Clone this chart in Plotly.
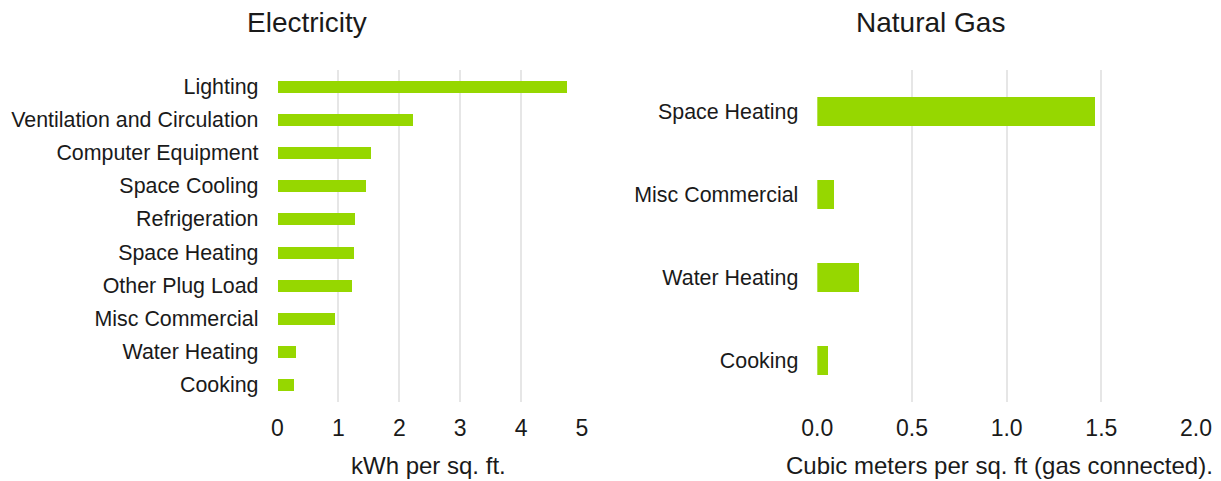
import plotly.graph_objects as go

# Energy use intensity by end use
elec_categories = [
    "Lighting", "Ventilation and Circulation", "Computer Equipment",
    "Space Cooling", "Refrigeration", "Space Heating", "Other Plug Load",
    "Misc Commercial", "Water Heating", "Cooking",
]
elec_values = [4.75, 2.22, 1.52, 1.44, 1.27, 1.24, 1.21, 0.94, 0.29, 0.27]

gas_categories = ["Space Heating", "Misc Commercial", "Water Heating", "Cooking"]
gas_values = [1.47, 0.09, 0.22, 0.06]

elec_ticks = [0, 1, 2, 3, 4, 5]
gas_ticks = [0.0, 0.5, 1.0, 1.5, 2.0]
gas_tick_text = ["0.0", "0.5", "1.0", "1.5", "2.0"]

W, H = 1221, 481
FONT = "Arial"
TEXT = "#1a1a1a"
BAR = "#96D700"
GRID = "#e6e6e6"


def px_x(p):
    return p / W


def px_y(p):
    return (H - p) / H


fig = go.Figure()
fig.add_trace(go.Bar(
    x=elec_values, y=elec_categories, orientation="h",
    marker=dict(color=BAR, line=dict(width=0)), width=0.36,
    xaxis="x", yaxis="y", showlegend=False,
))
fig.add_trace(go.Bar(
    x=gas_values, y=gas_categories, orientation="h",
    marker=dict(color=BAR, line=dict(width=0)), width=0.36,
    xaxis="x2", yaxis="y2", showlegend=False,
))

y_dom = [px_y(401.5), px_y(69.5)]

common_x = dict(
    showgrid=True, gridcolor=GRID, gridwidth=2, zeroline=False,
    showline=False, ticks="", automargin=False,
    tickfont=dict(family=FONT, size=23, color=TEXT),
    ticklabelstandoff=10,
)
common_y = dict(
    showgrid=False, zeroline=False, showline=False, ticks="",
    automargin=False, autorange="reversed",
    tickfont=dict(family=FONT, size=21.4, color=TEXT),
    ticklabelstandoff=18,
)

fig.update_layout(
    width=W, height=H,
    margin=dict(l=0, r=0, t=0, b=0),
    paper_bgcolor="white", plot_bgcolor="white",
    bargap=0,
    xaxis=dict(domain=[px_x(277.5), px_x(582)], range=[0, 5],
               tickvals=elec_ticks, anchor="y", **common_x),
    yaxis=dict(domain=y_dom, anchor="x", categoryorder="array",
               categoryarray=elec_categories, **common_y),
    xaxis2=dict(domain=[px_x(817.3), px_x(1196)], range=[0, 2],
                tickvals=gas_ticks, ticktext=gas_tick_text, anchor="y2",
                **common_x),
    yaxis2=dict(domain=y_dom, anchor="x2", categoryorder="array",
                categoryarray=gas_categories, **common_y),
    annotations=[
        dict(text="Electricity", x=px_x(307), y=px_y(22), xref="paper",
             yref="paper", showarrow=False, xanchor="center",
             yanchor="middle", font=dict(family=FONT, size=28, color=TEXT)),
        dict(text="Natural Gas", x=px_x(930), y=px_y(22), xref="paper",
             yref="paper", showarrow=False, xanchor="center",
             yanchor="middle", font=dict(family=FONT, size=28, color=TEXT)),
        dict(text="kWh per sq. ft.", x=px_x(428.5), y=px_y(465),
             xref="paper", yref="paper", showarrow=False, xanchor="center",
             yanchor="middle", font=dict(family=FONT, size=24, color=TEXT)),
        dict(text="Cubic meters per sq. ft (gas connected).", x=px_x(999),
             y=px_y(465), xref="paper", yref="paper", showarrow=False,
             xanchor="center", yanchor="middle",
             font=dict(family=FONT, size=24, color=TEXT)),
    ],
)

fig.write_html("out.html")
